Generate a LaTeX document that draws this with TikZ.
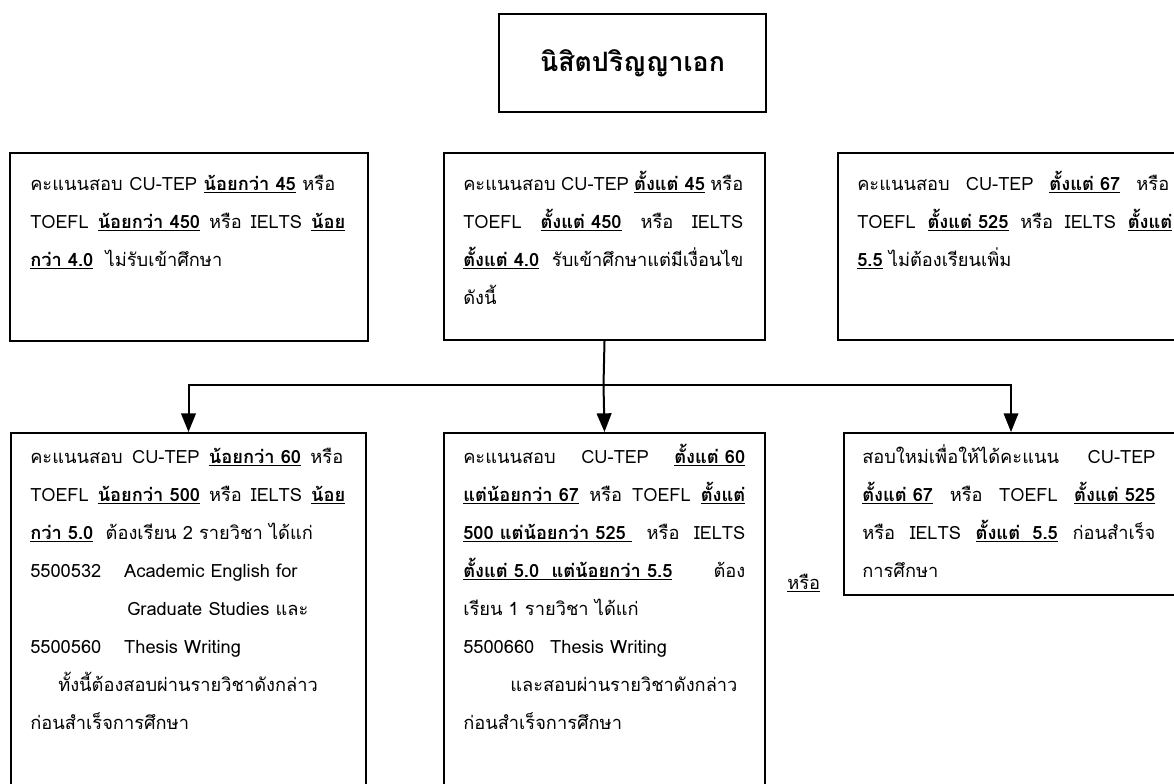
\documentclass[tikz,border=0pt]{standalone}
\usepackage{fontspec}
\setmainfont[Script=Thai]{Loma}
\usetikzlibrary{arrows.meta}
\newcommand\ub[1]{\underline{\textbf{#1}}}
\newcommand\jl[2]{\makebox[#1][s]{#2}}
\newcommand\firststrut{\rule{0pt}{21pt}}
\begin{document}
\begin{tikzpicture}[x=0.75pt,y=-0.75pt,
  box/.style={draw, line width=1.5pt, anchor=north west, inner sep=0pt},
  txt/.style={anchor=north west, inner sep=0pt, align=left, font=\fontsize{13.7}{28.5}\selectfont},
  conn/.style={line width=1.5pt},
  arr/.style={line width=1.5pt, -{Triangle[length=14pt,width=11pt]}},
  thin arr/.style={line width=1pt, -{Triangle[length=14pt,width=11pt]}}]
\useasboundingbox (0,0) rectangle (1174,783);
% boxes
\node[box, minimum width=200.25pt, minimum height=73.5pt] (T) at (498,13) {};
\node[font=\fontsize{20}{24}\selectfont\bfseries] (Tt) at (T.center) {นิสิตปริญญาเอก};
\node[box, minimum width=268.5pt, minimum height=141pt] (L1) at (9,152) {};
\node[box, minimum width=240.75pt, minimum height=140.25pt] (M1) at (443,152) {};
\node[box, minimum width=255pt, minimum height=140.25pt] (R1) at (837,152) {};
\node[box, minimum width=266.25pt, minimum height=276pt] (B1) at (10,432) {};
\node[box, minimum width=240.75pt, minimum height=276pt] (B2) at (443,432) {};
\node[box, minimum width=250.5pt, minimum height=121.5pt] (B3) at (843,432) {};
% texts
\node[txt] (L1t) at (30,162) {\firststrut\jl{228.75pt}{คะแนนสอบ CU-TEP \ub{น้อยกว่า 45} หรือ}\\
\jl{236.25pt}{TOEFL \ub{น้อยกว่า 450} หรือ IELTS \ub{น้อย}}\\
\ub{กว่า 4.0}\ \ ไม่รับเข้าศึกษา};
\node[txt] (M1t) at (463,162) {\firststrut\jl{210pt}{คะแนนสอบ CU-TEP \ub{ตั้งแต่ 45} หรือ}\\
\jl{210pt}{TOEFL \ub{ตั้งแต่ 450} หรือ IELTS}\\
\jl{210pt}{\ub{ตั้งแต่ 4.0} รับเข้าศึกษาแต่มีเงื่อนไข}\\
ดังนี้};
\node[txt] (R1t) at (857,162) {\firststrut\jl{234pt}{คะแนนสอบ CU-TEP \ub{ตั้งแต่ 67} หรือ}\\
\jl{236.25pt}{TOEFL \ub{ตั้งแต่ 525} หรือ IELTS \ub{ตั้งแต่}}\\
\ub{5.5} ไม่ต้องเรียนเพิ่ม};
\node[txt] (B1t) at (30,435) {\firststrut\jl{234.75pt}{คะแนนสอบ CU-TEP \ub{น้อยกว่า 60} หรือ}\\
\jl{236.25pt}{TOEFL \ub{น้อยกว่า 500} หรือ IELTS \ub{น้อย}}\\
\ub{กว่า 5.0}\ \ ต้องเรียน 2 รายวิชา ได้แก่\\
\makebox[70.5pt][l]{5500532}Academic English for\\
\hspace*{72.75pt}Graduate Studies และ\\
\makebox[70.5pt][l]{5500560}Thesis Writing\\
\hspace*{21pt}ทั้งนี้ต้องสอบผ่านรายวิชาดังกล่าว\\
ก่อนสำเร็จการศึกษา};
\node[txt] (B2t) at (463,435) {\firststrut\jl{211.5pt}{คะแนนสอบ CU-TEP \ub{ตั้งแต่ 60}}\\
\jl{211.5pt}{\ub{แต่น้อยกว่า 67} หรือ TOEFL \ub{ตั้งแต่}}\\
\jl{211.5pt}{\ub{500 แต่น้อยกว่า 525\ } หรือ IELTS}\\
\jl{211.5pt}{\ub{ตั้งแต่ 5.0\ \ แต่น้อยกว่า 5.5} ต้อง}\\
เรียน 1 รายวิชา ได้แก่\\
\makebox[65.25pt][l]{5500660}Thesis Writing\\
\hspace*{35.25pt}และสอบผ่านรายวิชาดังกล่าว\\
ก่อนสำเร็จการศึกษา};
\node[txt] (B3t) at (862,435) {\firststrut\jl{219.75pt}{สอบใหม่เพื่อให้ได้คะแนน CU-TEP}\\
\jl{219.75pt}{\ub{ตั้งแต่ 67} หรือ TOEFL \ub{ตั้งแต่ 525}}\\
\jl{219.75pt}{หรือ IELTS \ub{ตั้งแต่\ \ 5.5} ก่อนสำเร็จ}\\
การศึกษา};
\node[anchor=base west, inner sep=0pt, font=\fontsize{13.7}{16}\selectfont] (OR) at (787,589) {\underline{หรือ}};
% connectors
\coordinate (J) at (603.5,385);
\draw[conn] (M1.south) -- (J);
\draw[arr] (J) -| (B1.north);
\draw[arr] (J) -- (B2.north);
\draw[thin arr] (J) -| (B3.north);
\end{tikzpicture}
\end{document}
